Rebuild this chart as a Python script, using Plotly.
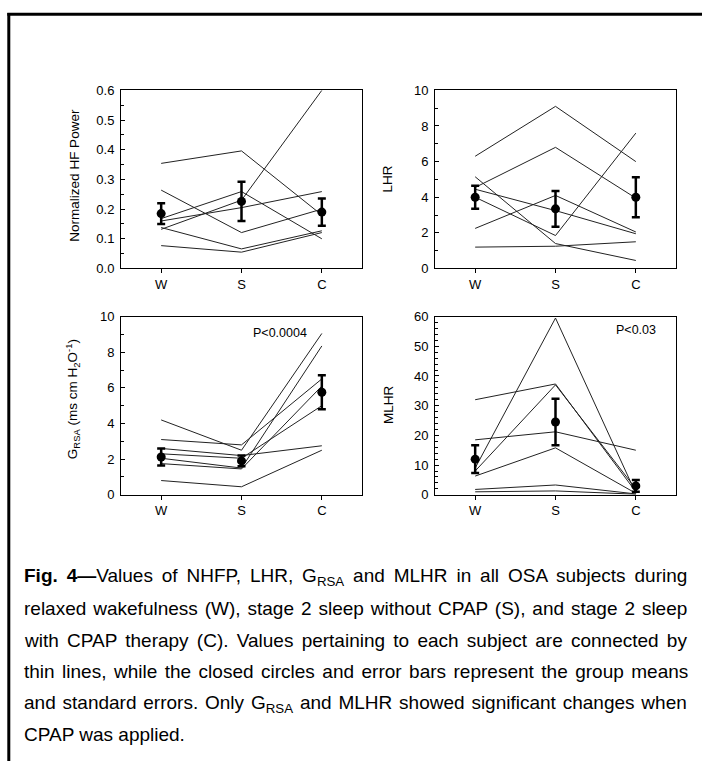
import plotly.graph_objects as go

W, H = 702, 769
stages = ["W", "S", "C"]
xpos = [1, 2, 3]

# Panel 1: Normalized HF Power (one list per subject: W, S, C)
nhfp_subjects = [
    [0.354, 0.396, 0.180],
    [0.264, 0.121, 0.200],
    [0.168, 0.259, 0.100],
    [0.160, 0.205, 0.259],
    [0.132, 0.230, 0.600],
    [0.138, 0.066, 0.127],
    [0.077, 0.055, 0.121],
]
nhfp_mean = [0.185, 0.226, 0.190]
nhfp_se = [0.035, 0.066, 0.046]

# Panel 2: LHR
lhr_subjects = [
    [6.30, 9.10, 6.00],
    [4.55, 6.80, 3.95],
    [5.15, 1.40, 0.45],
    [4.00, 1.85, 7.60],
    [4.45, 3.25, 1.95],
    [2.25, 4.10, 2.05],
    [1.20, 1.25, 1.50],
]
lhr_mean = [4.00, 3.35, 4.00]
lhr_se = [0.65, 1.00, 1.12]

# Panel 3: G_RSA
grsa_subjects = [
    [4.20, 2.50, 9.05],
    [3.10, 2.80, 6.50],
    [2.60, 2.20, 2.75],
    [2.30, 2.05, 5.00],
    [2.05, 1.50, 8.35],
    [1.75, 1.45, 6.10],
    [0.80, 0.45, 2.50],
]
grsa_mean = [2.12, 1.90, 5.75]
grsa_se = [0.48, 0.30, 0.95]

# Panel 4: MLHR
mlhr_subjects = [
    [32.0, 37.3, 1.0],
    [18.5, 21.2, 15.0],
    [9.0, 59.5, 0.5],
    [8.0, 37.0, 2.0],
    [6.3, 15.8, 0.5],
    [1.8, 3.3, 0.3],
    [1.0, 1.3, 0.2],
]
mlhr_mean = [12.0, 24.5, 3.0]
mlhr_se = [4.7, 7.8, 2.0]

panels = [
    (nhfp_subjects, nhfp_mean, nhfp_se),
    (lhr_subjects, lhr_mean, lhr_se),
    (grsa_subjects, grsa_mean, grsa_se),
    (mlhr_subjects, mlhr_mean, mlhr_se),
]
y_ranges = [[0, 0.6], [0, 10], [0, 10], [0, 60]]
y_dticks = [0.1, 2, 2, 10]
y_minor = [0.05, 1, 1, 2]
y_formats = [".1f", "", "", ""]

FONT = "Liberation Sans, Arial, sans-serif"

def px_x(p):
    return p / W

def px_y(p):
    return 1 - p / H

x_domains = [[px_x(121), px_x(362)], [px_x(435), px_x(676)]]
y_domains = [[px_y(266.7), px_y(85)], [px_y(497.5), px_y(315.7)]]

fig = go.Figure()

for i, (subjects, mean, se) in enumerate(panels):
    n = i + 1
    xa = "x" if n == 1 else f"x{n}"
    ya = "y" if n == 1 else f"y{n}"
    for s in subjects:
        fig.add_trace(go.Scatter(x=xpos, y=s, mode="lines", xaxis=xa, yaxis=ya,
                                 line=dict(color="#222222", width=1), showlegend=False,
                                 hoverinfo="skip"))
    fig.add_trace(go.Scatter(x=xpos, y=mean, mode="markers", xaxis=xa, yaxis=ya,
                             marker=dict(color="black", size=9),
                             error_y=dict(type="data", array=se, visible=True,
                                          color="black", thickness=2.5, width=4),
                             showlegend=False))

    col = i % 2
    row = i // 2
    xkey = "xaxis" if n == 1 else f"xaxis{n}"
    ykey = "yaxis" if n == 1 else f"yaxis{n}"
    fig.layout[xkey] = dict(
        domain=x_domains[col], anchor=ya, range=[0.5, 3.5],
        tickmode="array", tickvals=xpos, ticktext=stages,
        ticks="outside", ticklen=4, tickcolor="black",
        showline=True, linecolor="black", linewidth=1, mirror=True,
        showgrid=False, zeroline=False,
        tickfont=dict(family=FONT, size=13, color="black"),
    )
    fig.layout[ykey] = dict(
        domain=y_domains[row], anchor=xa, range=y_ranges[i],
        dtick=y_dticks[i], tick0=0, tickformat=y_formats[i],
        ticks="inside", ticklen=4, tickcolor="black",
        minor=dict(dtick=y_minor[i], tick0=0, ticks="inside", ticklen=2.5, tickcolor="black"),
        showline=True, linecolor="black", linewidth=1, mirror=True,
        showgrid=False, zeroline=False, ticklabelstandoff=3,
        tickfont=dict(family=FONT, size=13, color="black"),
    )

annotations = []
ytitles = [
    ("Normalized HF Power", 75, 172),
    ("LHR", 388, 176),
    ("G<sub>RSA</sub> (ms cm H<sub>2</sub>O<sup>-1</sup>)", 73, 400),
    ("MLHR", 388, 406),
]
for txt, x, y in ytitles:
    annotations.append(dict(text=txt, x=px_x(x), y=px_y(y), xref="paper", yref="paper",
                            showarrow=False, textangle=-90, xanchor="center", yanchor="middle",
                            font=dict(family=FONT, size=13.5, color="black")))

annotations.append(dict(text="P<0.0004", x=px_x(280), y=px_y(332), xref="paper", yref="paper",
                        showarrow=False, xanchor="center", yanchor="middle",
                        font=dict(family=FONT, size=12.5, color="black")))
annotations.append(dict(text="P<0.03", x=px_x(636), y=px_y(329), xref="paper", yref="paper",
                        showarrow=False, xanchor="center", yanchor="middle",
                        font=dict(family=FONT, size=12.5, color="black")))

caption_lines = [
    "<b>Fig. 4\u2014</b>Values of NHFP, LHR, G<sub>RSA</sub> and MLHR in all OSA subjects during",
    "relaxed wakefulness (W), stage 2 sleep without CPAP (S), and stage 2 sleep",
    "with CPAP therapy (C). Values pertaining to each subject are connected by",
    "thin lines, while the closed circles and error bars represent the group means",
    "and standard errors. Only G<sub>RSA</sub> and MLHR showed significant changes when",
    "CPAP was applied.",
]
caption_wordspacing = [3.6, 1.65, 2.95, 2.2, 1.55, 0]
caption_y = [581.7, 613.5, 645.7, 678, 710.5, 742]
CAPFONT = "Liberation Sans, Arial, sans-serif"
for txt, ws, y in zip(caption_lines, caption_wordspacing, caption_y):
    annotations.append(dict(text=f'<span style="word-spacing:{ws}px">{txt}</span>',
                            x=px_x(22), y=px_y(y), xref="paper", yref="paper",
                            showarrow=False, xanchor="left", yanchor="middle",
                            font=dict(family=CAPFONT, size=19, color="black")))

shapes = [
    dict(type="line", xref="paper", yref="paper", x0=px_x(7.3), x1=1, y0=px_y(7.5), y1=px_y(7.5),
         line=dict(color="black", width=3)),
    dict(type="line", xref="paper", yref="paper", x0=px_x(8.8), x1=px_x(8.8), y0=px_y(6), y1=0,
         line=dict(color="black", width=3)),
]

fig.update_layout(
    width=W, height=H, margin=dict(l=0, r=0, t=0, b=0),
    paper_bgcolor="white", plot_bgcolor="white",
    annotations=annotations, shapes=shapes, showlegend=False,
)

fig.write_html("out.html")
